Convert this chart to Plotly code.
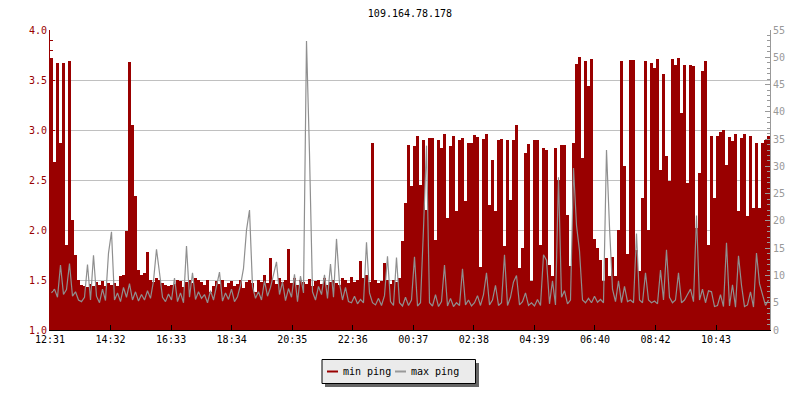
import plotly.graph_objects as go

title_text = "109.164.78.178"
tick_labels = ["12:31", "14:32", "16:33", "18:34", "20:35", "22:36",
               "00:37", "02:38", "04:39", "06:40", "08:42", "10:43"]
legend_labels = ["min ping", "max ping"]

# min ping (ms, left axis), one value per 6-minute sample starting 12:31
min_ping = [
    3.72, 2.68, 3.67, 2.87, 3.67, 1.85, 3.69, 2.1, 1.75, 1.5,
    1.45, 1.44, 1.43, 1.46, 1.44, 1.48, 1.45, 1.49, 1.44, 1.47,
    1.45, 1.47, 1.44, 1.54, 1.55, 1.99, 3.68, 3.05, 2.34, 1.6,
    1.55, 1.57, 1.78, 1.5, 1.48, 1.52, 1.5, 1.47, 1.45, 1.44,
    1.45, 1.46, 1.5, 1.49, 1.43, 1.48, 1.5, 1.47, 1.52, 1.5,
    1.48, 1.45, 1.5, 1.38, 1.44, 1.49, 1.46, 1.5, 1.43, 1.47,
    1.49, 1.44, 1.46, 1.5, 1.42, 1.48, 1.5, 1.47, 1.38, 1.5,
    1.48, 1.55, 1.47, 1.72, 1.5, 1.46, 1.52, 1.48, 1.5, 1.81,
    1.47, 1.52, 1.45, 1.5, 1.48, 1.46, 1.51, 1.44, 1.49, 1.5,
    1.46, 1.52, 1.45, 1.48, 1.5, 1.47, 1.45, 1.52, 1.5, 1.47,
    1.53, 1.48, 1.5, 1.69, 1.52, 1.55, 1.48, 2.87, 1.5, 1.47,
    1.49, 1.67, 1.5, 1.46, 1.5, 1.48, 1.52, 1.89, 2.27, 2.85,
    2.44, 2.84, 2.94, 2.45, 2.9, 2.2, 2.92, 2.92, 1.9, 2.9,
    2.82, 2.96, 2.12, 2.84, 2.94, 2.19, 2.9, 2.92, 2.29, 2.87,
    2.87, 2.95, 2.93, 1.63, 2.91, 2.96, 2.25, 2.7, 2.19, 2.9,
    2.91, 1.84, 2.9, 2.3, 2.9, 3.05, 1.62, 1.82, 2.77, 2.86,
    1.49, 2.9, 2.9, 1.85, 2.82, 2.8, 1.65, 1.54, 2.82, 2.5,
    2.85, 2.85, 2.15, 1.64, 2.87, 3.66, 3.73, 2.72, 3.69, 3.44,
    3.71, 1.91, 1.82, 1.7, 1.49, 1.72, 1.54, 1.73, 1.54, 2.0,
    3.69, 2.64, 1.76, 3.7, 3.7, 1.8, 1.59, 2.32, 3.69, 2.0,
    3.67, 3.62, 3.71, 2.6, 3.56, 2.74, 2.49, 3.71, 3.65, 3.72,
    3.17, 3.65, 2.47, 3.65, 3.64, 2.02, 2.57, 3.59, 3.69, 1.85,
    2.94, 2.32, 2.94, 2.98, 3.0, 2.65, 2.93, 2.89, 2.96, 2.19,
    2.92, 2.96, 2.14, 2.94, 2.22, 2.87, 2.22, 2.87, 2.9, 2.94,
]

# max ping (ms, right axis)
max_ping = [
    6.8, 7.5, 6.0, 11.9, 6.5, 7.4, 12.2, 6.2, 7.0, 5.5,
    5.2, 6.0, 12.0, 5.5, 13.7, 6.2, 5.0, 7.5, 5.4, 14.1,
    18.0, 5.5, 6.8, 5.2, 7.8, 6.0, 8.5, 5.5, 7.0, 5.3,
    6.5, 5.5, 7.2, 5.8, 9.0, 14.8, 10.5, 6.0, 5.2, 6.6,
    5.5, 9.5, 5.2, 6.8, 5.0, 15.4, 6.0, 10.5, 5.6, 7.0,
    5.8, 6.5, 5.0, 7.2, 5.5, 8.0, 10.6, 5.3, 6.8, 5.6,
    7.5, 5.2, 6.1, 8.2, 11.3, 18.3, 22.0, 8.0, 5.8, 7.0,
    5.5, 9.0, 6.2, 7.8, 10.4, 12.5, 6.5, 8.8, 5.4, 7.6,
    6.0, 10.2, 5.2, 9.9, 6.8, 53.0, 32.3, 7.0, 5.5, 8.0,
    6.5, 10.1, 5.8, 12.1, 6.0, 16.7, 8.6, 5.5, 7.8, 5.2,
    5.0, 6.2, 4.8, 5.6, 5.0, 16.1, 6.8, 5.0, 4.6, 5.8,
    4.5, 6.3, 13.5, 5.2, 4.5, 13.3, 5.0, 4.4, 6.0, 4.5,
    5.5, 13.4, 4.4, 5.0, 18.6, 33.8, 5.0, 4.4, 6.5, 4.3,
    5.2, 11.9, 4.4, 5.8, 4.3, 5.0, 4.5, 11.2, 4.6, 5.5,
    4.4, 5.0, 6.3, 4.5, 6.5, 10.5, 4.6, 5.5, 8.2, 4.5,
    5.0, 13.8, 4.5, 6.0, 8.8, 10.0, 4.6, 5.2, 6.8, 4.5,
    5.0, 4.4, 5.6, 4.5, 13.8, 12.8, 4.8, 9.0, 4.6, 28.0,
    6.0, 7.2, 4.8, 5.5, 29.7, 19.2, 14.5, 5.5, 5.0, 5.8,
    5.0, 6.2, 5.1, 5.6, 5.0, 33.0, 18.9, 7.5, 5.2, 9.0,
    5.0, 8.0, 5.2, 5.5, 5.0, 17.7, 5.5, 5.0, 10.5, 5.5,
    5.0, 5.3, 4.8, 11.0, 5.5, 14.7, 6.0, 5.0, 5.5, 10.5,
    5.0, 5.5, 6.5, 7.5, 5.2, 21.0, 5.5, 7.5, 5.0, 7.2,
    7.0, 4.3, 4.5, 6.5, 4.3, 16.0, 4.4, 8.3, 4.2, 13.6,
    8.2, 4.3, 4.6, 7.0, 4.2, 14.1, 8.5, 6.5, 4.5, 5.5,
]

SAMPLE_MIN = 6        # minutes per sample
TICK_STEP = 121.1     # minutes between time labels
SPAN_MIN = 1440       # 24 hours shown

RED = "#990000"
GRAY = "#8f8f8f"
AXGRAY = "#999999"
GRID = "#c0c0c0"
FONT = "DejaVu Sans Mono"

x = [SAMPLE_MIN * i + SAMPLE_MIN / 2 for i in range(len(min_ping))]
tickvals = [k * TICK_STEP for k in range(len(tick_labels))]

fig = go.Figure()
fig.add_trace(go.Bar(
    x=x, y=min_ping, width=SAMPLE_MIN, name=legend_labels[0],
    marker=dict(color=RED, line=dict(width=0)), showlegend=False,
))
fig.add_trace(go.Scatter(
    x=x, y=max_ping, yaxis="y2", mode="lines", name=legend_labels[1],
    line=dict(color=GRAY, width=1.2), showlegend=False,
))

# plot area in pixels: x 50..770, y 30..330
def px(v):
    return (v - 50) / 720.0

def py(v):
    return (330 - v) / 300.0

shapes = [
    dict(type="rect", xref="paper", yref="paper", x0=px(325), x1=px(479), y0=py(387), y1=py(363),
         fillcolor="#666666", line=dict(width=0), layer="above"),
    dict(type="rect", xref="paper", yref="paper", x0=px(322), x1=px(475.5), y0=py(383.5), y1=py(359.5),
         fillcolor="#ebebeb", line=dict(color="black", width=1), layer="above"),
    dict(type="line", xref="paper", yref="paper", x0=px(327), x1=px(338), y0=py(371.5), y1=py(371.5),
         line=dict(color=RED, width=2), layer="above"),
    dict(type="line", xref="paper", yref="paper", x0=px(395), x1=px(406), y0=py(371.5), y1=py(371.5),
         line=dict(color=AXGRAY, width=2), layer="above"),
]
annotations = [
    dict(text=legend_labels[0], xref="paper", yref="paper", x=px(341), y=py(371),
         xanchor="left", yanchor="middle", showarrow=False, font=dict(size=10, color="black", family=FONT)),
    dict(text=legend_labels[1], xref="paper", yref="paper", x=px(409), y=py(371),
         xanchor="left", yanchor="middle", showarrow=False, font=dict(size=10, color="black", family=FONT)),
]

fig.update_layout(
    width=800, height=400,
    margin=dict(l=50, r=30, t=30, b=70),
    paper_bgcolor="white", plot_bgcolor="white",
    font=dict(family=FONT, size=10, color="black"),
    bargap=0,
    showlegend=False,
    title=dict(text=title_text, x=0.5, xref="paper", xanchor="center",
               y=1 - 13 / 400, yref="container", yanchor="middle",
               font=dict(family=FONT, size=10, color="black")),
    xaxis=dict(range=[0, SPAN_MIN], tickvals=tickvals, ticktext=tick_labels,
               ticks="inside", ticklen=5, tickcolor="black", tickwidth=1,
               showline=True, linecolor="black", linewidth=1,
               showgrid=False, zeroline=False, tickfont=dict(color="black")),
    yaxis=dict(range=[1, 4], tick0=1, dtick=0.5, tickformat=".1f",
               ticks="inside", ticklen=5, tickcolor=RED, tickwidth=1,
               showline=True, linecolor=RED, linewidth=1,
               tickfont=dict(color=RED), showgrid=True, gridcolor=GRID, gridwidth=1,
               zeroline=False,
               minor=dict(dtick=0.1, tick0=1, ticks="inside", ticklen=3, tickcolor=RED, showgrid=False)),
    yaxis2=dict(range=[0, 55], tick0=0, dtick=5, overlaying="y", side="right", anchor="x",
                ticks="inside", ticklen=5, tickcolor=AXGRAY, tickwidth=1,
                showline=True, linecolor=AXGRAY, linewidth=1,
                tickfont=dict(color=AXGRAY), showgrid=False, zeroline=False,
                minor=dict(dtick=1, tick0=0, ticks="inside", ticklen=3, tickcolor=AXGRAY, showgrid=False)),
    shapes=shapes,
    annotations=annotations,
)

fig.write_html("out.html", config={"displayModeBar": False},
               post_script="document.body.style.margin='0';")
